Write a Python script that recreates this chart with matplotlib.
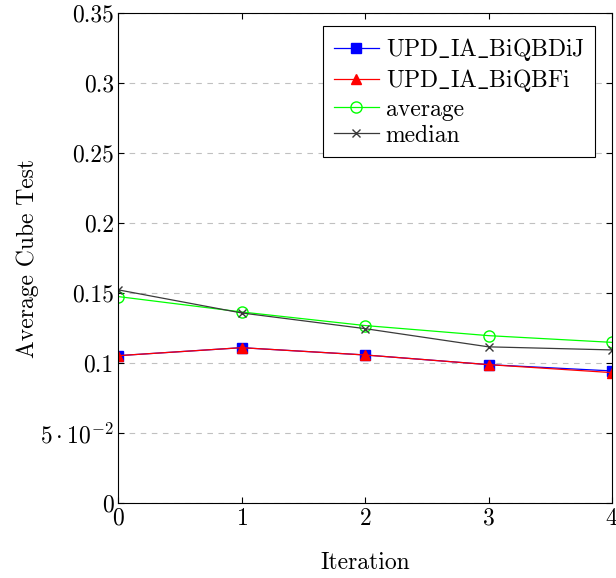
import matplotlib.pyplot as plt

plt.rcParams['font.family'] = 'cmr10'
plt.rcParams['mathtext.fontset'] = 'cm'
plt.rcParams['axes.formatter.use_mathtext'] = True

# data
iteracao = [0, 1, 2, 3, 4]
bidij = [0.1054, 0.1111, 0.1059, 0.0990, 0.0945]
bfi = [0.1054, 0.1111, 0.1059, 0.0990, 0.0933]
media = [0.1476, 0.1366, 0.1269, 0.1197, 0.1149]
mediana = [0.1524, 0.1359, 0.1247, 0.1117, 0.1095]

y_ticks = [0, 0.05, 0.1, 0.15, 0.2, 0.25, 0.3, 0.35]
y_labels = ['0', r'$5\cdot10^{-2}$', '0.1', '0.15', '0.2', '0.25', '0.3', '0.35']

fs = 17

fig = plt.figure(figsize=(6.16, 5.78), dpi=100)
ax = fig.add_axes([0.1916, 0.1292, 0.8019, 0.8483])

ax.plot(iteracao, bidij, color='blue', marker='s', markersize=7.5, lw=0.9,
        label=r'$\mathrm{UPD\_IA\_BiQBDiJ}$')
ax.plot(iteracao, bfi, color='red', marker='^', markersize=7.5, lw=0.9,
        label=r'$\mathrm{UPD\_IA\_BiQBFi}$')
ax.plot(iteracao, media, color='#00ff00', marker='o', markersize=8,
        markerfacecolor='none', lw=0.9, label='average')
ax.plot(iteracao, mediana, color='#3a3a3a', marker='x', markersize=6, lw=0.9,
        label='median')

ax.set_xlim(0, 4)
ax.set_ylim(0, 0.35)
ax.set_xticks(iteracao)
ax.set_yticks(y_ticks)
ax.set_yticklabels(y_labels)
ax.tick_params(direction='in', top=True, right=True, labelsize=fs, length=4, pad=3)
ax.yaxis.grid(True, linestyle=(0, (5, 5)), color='#c0c0c0', lw=0.8)
ax.set_axisbelow(True)

ax.set_xlabel('Iteration', fontsize=fs, labelpad=16)
ax.set_ylabel('Average Cube Test', fontsize=fs, labelpad=1)

leg = ax.legend(loc='upper right', bbox_to_anchor=(0.9656, 0.974),
                borderaxespad=0, fontsize=fs, fancybox=False,
                edgecolor='black', framealpha=1, handlelength=1.9,
                handletextpad=0.3, labelspacing=0.17, borderpad=0.45)
leg.get_frame().set_linewidth(0.8)

fig.savefig('out.png', dpi=100)
